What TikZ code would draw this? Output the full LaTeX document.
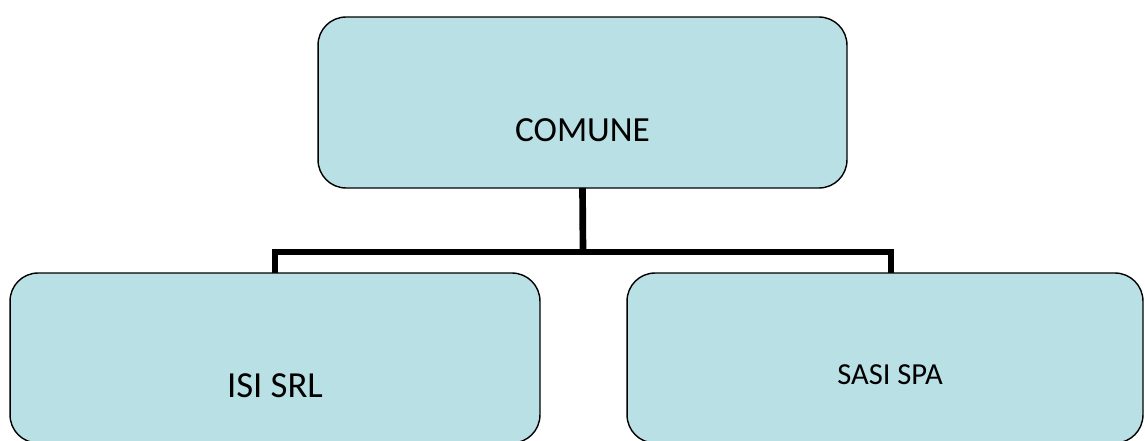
\documentclass[tikz,border=0pt]{standalone}
\usepackage{fontspec}
\setmainfont{Carlito}
\usetikzlibrary{calc}
\definecolor{boxfill}{RGB}{185,224,228}
\tikzset{
    orgbox/.style={draw=black, fill=boxfill, line width=0.8pt, rounded corners=0.56cm, outer sep=0pt, inner sep=0pt},
    orgtext/.style={anchor=base, inner sep=0pt, text=black},
    orglink/.style={draw=black, line width=3.8pt, line join=miter}
}

\begin{document}
\begin{tikzpicture}[x=0.02cm, y=0.02cm]
    \clip (0,0) rectangle (1145,440);

    % boxes
    \node[orgbox, minimum width=10.58cm, minimum height=3.42cm] (comune) at (582.5,337.5) {};
    \node[orgbox, minimum width=10.6cm, minimum height=3.4cm] (isi) at (275,82) {};
    \node[orgbox, minimum width=10.32cm, minimum height=3.4cm] (sasi) at (885,82) {};

    % labels
    \node[orgtext, font=\fontsize{20.1}{24}\selectfont] (comunetxt) at (582.5,298) {COMUNE};
    \node[orgtext, font=\fontsize{20.9}{25}\selectfont] (isitxt) at (275,43) {ISI SRL};
    \node[orgtext, font=\fontsize{17.4}{21}\selectfont] (sasitxt) at (890,56) {SASI SPA};

    % connector lines
    \coordinate (bus) at (583,188);
    \coordinate (sasitop) at ($(sasi.north)+(6,0)$);
    \draw[orglink] (comune.south) -- (bus);
    \draw[orglink] (isi.north) |- (bus) -| (sasitop);
\end{tikzpicture}
\end{document}
